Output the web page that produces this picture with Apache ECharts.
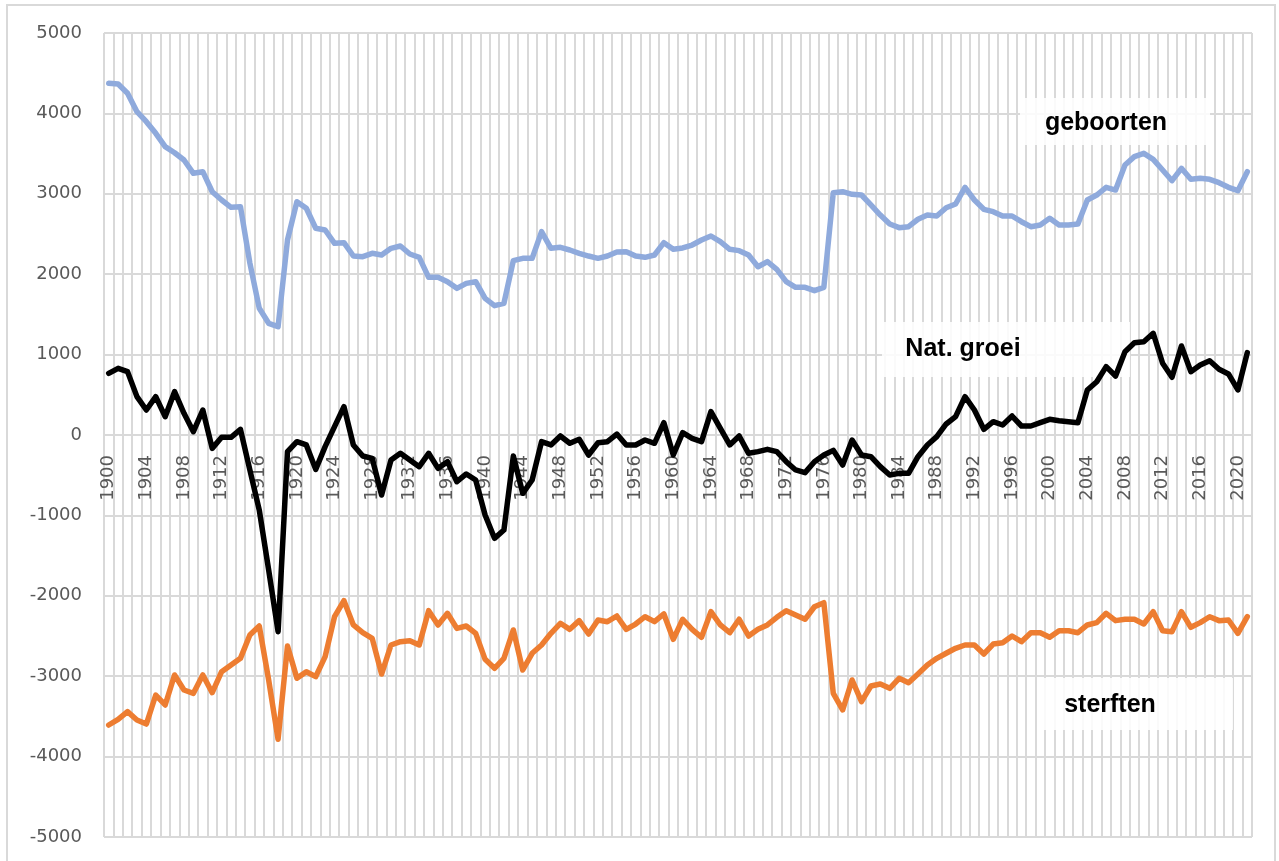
<!DOCTYPE html>
<html>
<head>
<meta charset="utf-8">
<script src="https://cdn.jsdelivr.net/npm/echarts@6/dist/echarts.min.js"></script>
<style>html,body{margin:0;padding:0;background:#fff;}#c{width:1279px;height:861px;}</style>
</head>
<body>
<div id="c"></div>
<script>
const years = [];
for (let y = 1900; y <= 2021; y++) years.push(String(y));

const geboorten = [
4374,4365,4250,4021,3897,3752,3586,3511,3420,3255,
3275,3026,2923,2832,2840,2140,1576,1389,1347,2425,
2902,2820,2571,2550,2384,2392,2226,2218,2260,2239,
2322,2351,2251,2210,1961,1961,1907,1824,1886,1907,
1700,1609,1638,2168,2197,2197,2529,2322,2334,2301,
2260,2226,2197,2226,2276,2280,2226,2210,2239,2392,
2310,2326,2363,2425,2475,2405,2310,2293,2239,2093,
2156,2061,1907,1837,1837,1795,1837,3014,3026,2994,
2985,2861,2736,2624,2579,2591,2683,2736,2724,2827,
2873,3081,2923,2807,2778,2724,2724,2653,2591,2612,
2695,2612,2612,2624,2923,2985,3081,3047,3358,3462,
3503,3429,3296,3163,3317,3180,3193,3180,3138,3081,
3039,3275];

const natGroei = [
767,829,788,477,311,477,228,539,270,41,
311,-166,-29,-29,71,-435,-933,-1679,-2446,-207,
-83,-124,-427,-145,104,352,-124,-261,-290,-746,
-311,-228,-311,-394,-228,-415,-332,-581,-485,-560,
-995,-1285,-1182,-261,-725,-560,-83,-124,-12,-103,
-53,-249,-96,-83,12,-124,-124,-62,-103,153,
-249,29,-41,-83,290,83,-124,-12,-228,-207,
-178,-207,-332,-435,-468,-332,-249,-191,-373,-62,
-249,-270,-394,-498,-477,-477,-270,-124,-21,137,
228,477,311,71,166,124,236,112,112,153,
195,178,166,153,560,663,850,734,1036,1148,
1160,1265,892,718,1107,788,871,924,817,759,
560,1024];

const sterften = [
-3607,-3537,-3441,-3545,-3595,-3234,-3358,-2985,-3172,-3213,
-2985,-3205,-2944,-2861,-2778,-2488,-2376,-3047,-3785,-2624,
-3026,-2944,-3006,-2757,-2260,-2061,-2363,-2459,-2529,-2973,
-2612,-2571,-2558,-2612,-2185,-2363,-2218,-2405,-2376,-2467,
-2790,-2902,-2778,-2425,-2923,-2715,-2612,-2467,-2342,-2417,
-2309,-2475,-2301,-2322,-2251,-2417,-2351,-2260,-2322,-2226,
-2541,-2292,-2417,-2516,-2197,-2363,-2459,-2292,-2500,-2417,
-2363,-2268,-2185,-2239,-2292,-2136,-2086,-3213,-3420,-3047,
-3317,-3122,-3097,-3151,-3026,-3081,-2973,-2861,-2778,-2715,
-2653,-2612,-2612,-2724,-2600,-2583,-2500,-2571,-2459,-2459,
-2516,-2434,-2434,-2459,-2363,-2334,-2218,-2309,-2292,-2292,
-2351,-2197,-2434,-2446,-2197,-2392,-2334,-2260,-2309,-2301,
-2467,-2260];

const labelGeboorten = 'geboorten';
const labelGroei = 'Nat. groei';
const labelSterften = 'sterften';

const chart = echarts.init(document.getElementById('c'), null, {renderer: 'canvas'});
const gridColor = '#d9d9d9';
const fontFam = 'DejaVu Sans';
const boxFill = 'rgba(255,255,255,0.85)';
const plotTop = 33, plotBottom = 24;
const plotH = 861 - plotTop - plotBottom;

chart.setOption({
  animation: false,
  backgroundColor: '#ffffff',
  grid: {left: 104, right: 27, top: plotTop, bottom: plotBottom, containLabel: false, outerBoundsMode: 'none'},
  xAxis: {
    type: 'category',
    data: years,
    boundaryGap: true,
    position: 'bottom',
    offset: -plotH / 2,
    axisLine: {show: true, onZero: false, lineStyle: {color: gridColor, width: 2}},
    axisTick: {show: false},
    axisLabel: {
      interval: 3, rotate: 90, margin: 20,
      color: '#595959', fontFamily: fontFam, fontSize: 18
    },
    splitLine: {show: true, interval: 0, lineStyle: {color: gridColor, width: 2}}
  },
  yAxis: {
    type: 'value', min: -5000, max: 5000, interval: 1000,
    axisLine: {show: false}, axisTick: {show: false},
    axisLabel: {color: '#595959', fontFamily: fontFam, fontSize: 18, margin: 22, formatter: function (v) { return String(v); }},
    splitLine: {show: true, lineStyle: {color: gridColor, width: 2}}
  },
  graphic: [
    {type: 'rect', shape: {x: 7, y: 5, width: 1268, height: 860}, style: {fill: 'none', stroke: gridColor, lineWidth: 2}, z: 0, silent: true},
    {type: 'rect', shape: {x: 1020, y: 98, width: 190, height: 47}, style: {fill: boxFill}, z: 1, silent: true},
    {type: 'rect', shape: {x: 882, y: 322, width: 248, height: 55}, style: {fill: boxFill}, z: 1, silent: true},
    {type: 'rect', shape: {x: 1043, y: 678, width: 190, height: 52}, style: {fill: boxFill}, z: 1, silent: true},
    {type: 'text', x: 1106, y: 123, style: {text: labelGeboorten, fill: '#000', font: 'bold 25px "Liberation Sans", Arial, sans-serif', textAlign: 'center', textVerticalAlign: 'middle'}, z: 10},
    {type: 'text', x: 963, y: 349, style: {text: labelGroei, fill: '#000', font: 'bold 25px "Liberation Sans", Arial, sans-serif', textAlign: 'center', textVerticalAlign: 'middle'}, z: 10},
    {type: 'text', x: 1110, y: 705, style: {text: labelSterften, fill: '#000', font: 'bold 25px "Liberation Sans", Arial, sans-serif', textAlign: 'center', textVerticalAlign: 'middle'}, z: 10}
  ],
  series: [
    {name: labelGeboorten, type: 'line', data: geboorten, symbol: 'none', lineStyle: {color: '#8faadc', width: 5.5, cap: 'round', join: 'round'}, z: 3},
    {name: labelGroei, type: 'line', data: natGroei, symbol: 'none', lineStyle: {color: '#000000', width: 5.5, cap: 'round', join: 'round'}, z: 3},
    {name: labelSterften, type: 'line', data: sterften, symbol: 'none', lineStyle: {color: '#ed7d31', width: 5.5, cap: 'round', join: 'round'}, z: 3}
  ]
});
</script>
</body>
</html>
